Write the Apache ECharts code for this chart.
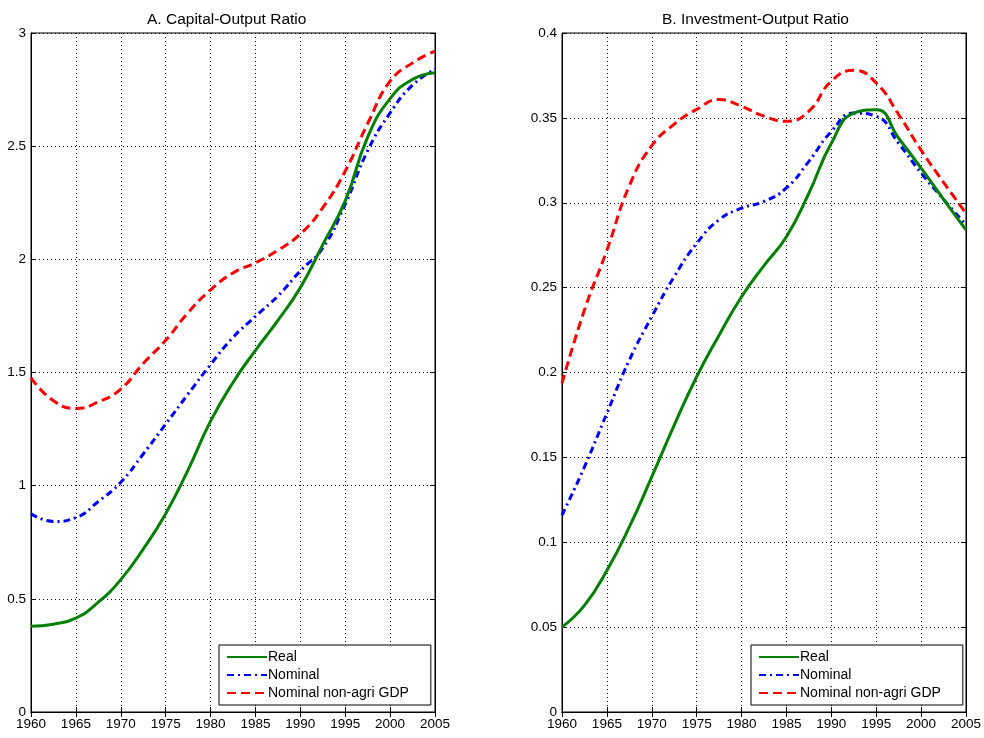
<!DOCTYPE html>
<html>
<head>
<meta charset="utf-8">
<title>Capital-Output and Investment-Output Ratio</title>
<script src="https://cdn.jsdelivr.net/npm/echarts@6/dist/echarts.min.js"></script>
<style>
  html, body { margin: 0; padding: 0; background: #fff; }
  #chart { width: 984px; height: 738px; }
</style>
</head>
<body>
<div id="chart"></div>
<script>
const years = [1960, 1962.5, 1965, 1967.5, 1970, 1972.5, 1975, 1977.5, 1980, 1982.5,
  1985, 1987.5, 1990, 1992.5, 1995, 1997.5, 2000, 2002.5, 2005]

// panel A: capital-output ratio
const realKY = [0.379, 0.388, 0.415, 0.485, 0.585, 0.72, 0.876, 1.07, 1.285, 1.456,
  1.598, 1.73, 1.875, 2.065, 2.258, 2.54, 2.71, 2.795, 2.824]
const nominalKY = [0.876, 0.842, 0.859, 0.93, 1.015, 1.14, 1.272, 1.405, 1.535, 1.655,
  1.748, 1.838, 1.949, 2.05, 2.244, 2.48, 2.647, 2.77, 2.84]
const nonAgriKY = [1.476, 1.375, 1.341, 1.37, 1.427, 1.54, 1.642, 1.765, 1.865, 1.94,
  1.985, 2.04, 2.112, 2.228, 2.39, 2.6, 2.787, 2.868, 2.92]

// panel B: investment-output ratio
const realIY = [0.05, 0.0628, 0.0834, 0.109, 0.1385, 0.169, 0.1975, 0.222, 0.2446, 0.263,
  0.28, 0.3056, 0.335, 0.3528, 0.3548, 0.338, 0.3204, 0.302, 0.284]
const nominalIY = [0.1159, 0.1444, 0.176, 0.2073, 0.2329, 0.2565, 0.276, 0.29, 0.2968, 0.3008,
  0.3087, 0.3244, 0.342, 0.3528, 0.351, 0.335, 0.3175, 0.302, 0.287]
const nonAgriIY = [0.1936, 0.2368, 0.272, 0.31, 0.3336, 0.3463, 0.355, 0.3608, 0.3568, 0.351,
  0.348, 0.354, 0.3716, 0.378, 0.3706, 0.352, 0.331, 0.312, 0.2938]

const names = ['Real', 'Nominal', 'Nominal non-agri GDP']
const titles = ['A. Capital-Output Ratio', 'B. Investment-Output Ratio']

const font = 'Liberation Sans, Arial, sans-serif'
const pair = arr => years.map((y, i) => [y, arr[i]])

const lineStyles = [
  { color: '#008000', width: 3, type: 'solid' },
  { color: '#0000ff', width: 3, type: [7, 4, 2, 4] },
  { color: '#ff0000', width: 3, type: [9, 5] }
]

function xAxes(idx) {
  return [{
    type: 'value', gridIndex: idx, min: 1960, max: 2005, interval: 5,
    axisLine: { lineStyle: { color: '#000' } },
    axisTick: { inside: true, length: 5, lineStyle: { color: '#000' } },
    axisLabel: { color: '#000', fontFamily: font, fontSize: 13.5, margin: 5, formatter: v => String(v) },
    splitLine: { show: true, lineStyle: { color: '#000', type: [1, 3], width: 1 } }
  }, {
    type: 'value', gridIndex: idx, position: 'top', min: 1960, max: 2005, interval: 5,
    axisLine: { lineStyle: { color: '#000' } },
    axisTick: { inside: true, length: 5, lineStyle: { color: '#000' } },
    axisLabel: { show: false },
    splitLine: { show: false }
  }]
}

function yAxes(idx, max, interval) {
  return [{
    type: 'value', gridIndex: idx, min: 0, max: max, interval: interval,
    axisLine: { show: true, lineStyle: { color: '#000' } },
    axisTick: { show: true, inside: true, length: 5, lineStyle: { color: '#000' } },
    axisLabel: { color: '#000', fontFamily: font, fontSize: 13.5, margin: 5 },
    splitLine: { show: true, lineStyle: { color: '#000', type: [1, 3], width: 1 } }
  }, {
    type: 'value', gridIndex: idx, position: 'right', min: 0, max: max, interval: interval,
    axisLine: { show: true, lineStyle: { color: '#000' } },
    axisTick: { show: true, inside: true, length: 5, lineStyle: { color: '#000' } },
    axisLabel: { show: false },
    splitLine: { show: false }
  }]
}

function makeSeries(idx, arrays) {
  return arrays.map((arr, k) => ({
    name: names[k],
    type: 'line',
    xAxisIndex: idx * 2,
    yAxisIndex: idx * 2,
    data: pair(arr),
    smooth: 0.5,
    showSymbol: false,
    symbol: 'none',
    lineStyle: lineStyles[k],
    itemStyle: { color: lineStyles[k].color },
    z: 3 - k
  }))
}

function makeLegend(left) {
  return {
    orient: 'vertical',
    left: left, top: 645,
    padding: [5, 22, 5, 7],
    itemWidth: 40, itemHeight: 14, itemGap: 4,
    backgroundColor: '#fff',
    borderColor: '#000', borderWidth: 1, borderRadius: 0,
    itemStyle: { opacity: 0 },
    textStyle: { color: '#000', fontFamily: font, fontSize: 14, padding: [0, 0, 0, -4] },
    data: names
  }
}

const chart = echarts.init(document.getElementById('chart'))
const option = {
  animation: false,
  backgroundColor: '#fff',
  title: [
    { text: titles[0], left: 142, top: 7, textStyle: { color: '#000', fontFamily: font, fontSize: 15.5, fontWeight: 'normal' } },
    { text: titles[1], left: 657, top: 7, textStyle: { color: '#000', fontFamily: font, fontSize: 15.5, fontWeight: 'normal' } }
  ],
  grid: [
    { left: 31, right: 549, top: 33, bottom: 26, show: true, borderColor: '#000', borderWidth: 1, backgroundColor: '#fff' },
    { left: 562, right: 17, top: 33, bottom: 26, show: true, borderColor: '#000', borderWidth: 1, backgroundColor: '#fff' }
  ],
  xAxis: xAxes(0).concat(xAxes(1)),
  yAxis: yAxes(0, 3, 0.5).concat(yAxes(1, 0.4, 0.05)),
  legend: [makeLegend(219), makeLegend(751)],
  series: makeSeries(0, [realKY, nominalKY, nonAgriKY]).concat(makeSeries(1, [realIY, nominalIY, nonAgriIY]))
}
chart.setOption(option)
</script>
</body>
</html>
